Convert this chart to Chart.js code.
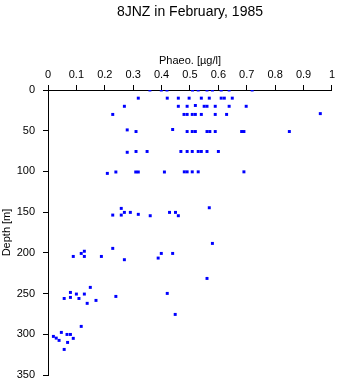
<!DOCTYPE html>
<html>
<head>
<meta charset="utf-8">
<script src="https://cdn.jsdelivr.net/npm/chart.js@4"></script>
<style>
    html, body { margin: 0; padding: 0; background: #fff; }
    #wrap { width: 338px; height: 384px; }
</style>
</head>
<body>
<div id="wrap"><canvas id="depth_chart" width="338" height="384"></canvas></div>
<script>
const titleText = '8JNZ in February, 1985';
const xLabel = 'Phaeo. [\u00b5g/l]';
const yLabel = 'Depth [m]';

const xTicks = [0, 0.1, 0.2, 0.3, 0.4, 0.5, 0.6, 0.7, 0.8, 0.9, 1];
const yTicks = [0, 50, 100, 150, 200, 250, 300, 350];

// samples, row by row (depth in m, phaeo in ug/l)
const depth = [
    0, 0, 0, 0, 0, 0, 0, 0, 0, 0,
    10, 10, 10, 10, 10, 10, 10, 10, 10,
    20, 20, 20, 19, 20, 20, 20, 20, 20,
    30, 30, 30, 30, 30, 30, 30, 30, 29,
    49, 51, 48.5, 51, 51, 51, 51, 51, 51, 51, 51, 51,
    76.5, 75.5, 75.5, 75.5, 75.5, 75.5, 75.5, 75.5, 75.5, 75.5,
    102.4, 100.7, 100.7, 100.7, 100.7, 100.5, 100.5, 100.5, 100.5, 100.5,
    145.4, 144.6,
    150.3, 150.3, 150.3, 150.3, 152.7, 153.6, 153.6, 154.4, 154.4,
    188.4, 194.5, 198, 200.7, 200.7, 200.7, 204.4, 204.4, 204.4, 206.4, 208.4,
    231.4, 242.4, 248.6, 249.8, 250.6, 250.6, 253.5, 254.7, 256, 256, 258.4, 262,
    275.6, 290.3, 297.7, 300.2, 300.2, 302.6, 304.7, 305, 307.5, 310, 318.6
];
const phaeo = [
    0.359, 0.399, 0.419, 0.509, 0.529, 0.56, 0.579, 0.61, 0.638, 0.719,
    0.318, 0.42, 0.459, 0.497, 0.54, 0.568, 0.61, 0.621, 0.649,
    0.269, 0.459, 0.49, 0.519, 0.55, 0.56, 0.589, 0.638, 0.698,
    0.228, 0.479, 0.49, 0.508, 0.519, 0.54, 0.589, 0.629, 0.959,
    0.279, 0.31, 0.439, 0.49, 0.508, 0.519, 0.56, 0.57, 0.589, 0.682, 0.69, 0.85,
    0.279, 0.31, 0.349, 0.468, 0.49, 0.508, 0.529, 0.54, 0.56, 0.6,
    0.209, 0.239, 0.309, 0.318, 0.41, 0.48, 0.49, 0.508, 0.529, 0.69,
    0.258, 0.568,
    0.269, 0.29, 0.428, 0.449, 0.318, 0.228, 0.258, 0.36, 0.459,
    0.579, 0.228, 0.128, 0.117, 0.399, 0.439, 0.089, 0.128, 0.188, 0.388, 0.269,
    0.56, 0.149, 0.079, 0.42, 0.1, 0.128, 0.239, 0.079, 0.057, 0.109, 0.169, 0.138,
    0.448, 0.117, 0.047, 0.067, 0.079, 0.019, 0.029, 0.089, 0.039, 0.069, 0.057
];

const FONT = 'Liberation Sans, Arial, Helvetica, sans-serif';

function renderChart() {
    const ctx = document.getElementById('depth_chart').getContext('2d');

    window.depthChart = new Chart(ctx, {
        type: 'scatter',
        data: {
            datasets: [{
                data: phaeo.map((v, i) => ({ x: v, y: depth[i] })),
                pointStyle: 'rect',
                pointRadius: 2.1,
                pointHoverRadius: 2.1,
                backgroundColor: '#0000ff',
                borderColor: '#0000ff',
                borderWidth: 0
            }]
        },
        options: {
            responsive: false,
            animation: false,
            layout: { padding: { left: 0, right: 6, top: 0, bottom: 9 } },
            plugins: {
                legend: { display: false },
                tooltip: { enabled: false },
                title: {
                    display: true,
                    text: titleText,
                    fullSize: false,
                    color: '#000',
                    font: { family: FONT, size: 14, weight: 'normal', lineHeight: 1.2 },
                    padding: { top: 4, bottom: 0 }
                }
            },
            scales: {
                x: {
                    type: 'linear',
                    position: 'top',
                    min: 0,
                    max: 1,
                    afterBuildTicks: scale => { scale.ticks = xTicks.map(v => ({ value: v })); },
                    afterFit: scale => { scale.height = 69.2; },
                    ticks: {
                        color: '#000',
                        padding: 3,
                        maxRotation: 0,
                        font: { family: FONT, size: 11, lineHeight: 1.2 },
                        callback: v => String(v)
                    },
                    grid: { drawOnChartArea: false, drawTicks: true, tickLength: 5, color: '#000' },
                    border: { display: true, color: '#000', width: 1 },
                    title: {
                        display: true,
                        text: xLabel,
                        color: '#000',
                        font: { family: FONT, size: 11, lineHeight: 1.2 },
                        padding: { top: 33.6, bottom: 0 }
                    }
                },
                y: {
                    type: 'linear',
                    reverse: true,
                    min: 0,
                    max: 350,
                    afterBuildTicks: scale => { scale.ticks = yTicks.map(v => ({ value: v })); },
                    afterFit: scale => {
                        scale.width = 48;
                        scale.paddingTop = 2;
                        scale.paddingBottom = 2;
                    },
                    ticks: {
                        color: '#000',
                        padding: 8,
                        font: { family: FONT, size: 11, lineHeight: 1.2 },
                        callback: v => String(v)
                    },
                    grid: { drawOnChartArea: false, drawTicks: true, tickLength: 5, color: '#000' },
                    border: { display: true, color: '#000', width: 1 },
                    title: {
                        display: true,
                        text: yLabel,
                        color: '#000',
                        font: { family: FONT, size: 11, lineHeight: 1.2 },
                        padding: { top: 0, bottom: 0 }
                    }
                }
            }
        }
    });
}

renderChart();
</script>
</body>
</html>
